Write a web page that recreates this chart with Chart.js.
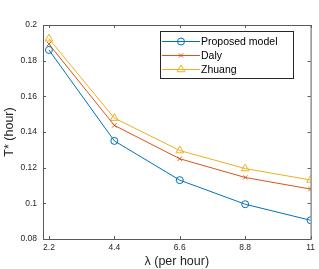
<!DOCTYPE html>
<html lang="en">
<head>
<meta charset="UTF-8">
<title>T* vs lambda</title>
<script src="https://cdn.jsdelivr.net/npm/chart.js"></script>
<style>
  html, body { margin: 0; padding: 0; background: #fff; }
  canvas { display: block; }
</style>
</head>
<body>
<canvas id="chart" width="319" height="269"></canvas>
<script>
// data
const lambdas = [2.2, 4.4, 6.6, 8.8, 11];
const proposed = [0.186, 0.135, 0.113, 0.0995, 0.0905];
const daly = [0.1893, 0.1437, 0.125, 0.1145, 0.108];
const zhuang = [0.1923, 0.1478, 0.1296, 0.1195, 0.1131];
const yTicks = [0.08, 0.1, 0.12, 0.14, 0.16, 0.18, 0.2];

const axisColor = "#262626";
const font = "'Liberation Sans', Arial, sans-serif";

function pts(vals) {
    return lambdas.map((x, i) => ({ x: x, y: vals[i] }));
}

// box + inward ticks, matlab style
const boxPlugin = {
    id: "box",
    afterDatasetsDraw(chart) {
        const c = chart.ctx, a = chart.chartArea;
        const xs = chart.scales.x, ys = chart.scales.y;
        c.save();
        c.strokeStyle = "#5a5a5a";
        c.lineWidth = 1;
        c.strokeRect(a.left + 0.5, a.top + 0.5, a.right - a.left, a.bottom - a.top);
        c.beginPath();
        lambdas.forEach(v => {
            const px = Math.round(xs.getPixelForValue(v)) + 0.5;
            c.moveTo(px, a.bottom); c.lineTo(px, a.bottom - 3);
            c.moveTo(px, a.top); c.lineTo(px, a.top + 3);
        });
        yTicks.forEach(v => {
            const py = Math.round(ys.getPixelForValue(v)) + 0.5;
            c.moveTo(a.left, py); c.lineTo(a.left + 3, py);
            c.moveTo(a.right, py); c.lineTo(a.right - 3, py);
        });
        c.stroke();
        c.restore();
    }
};

// legend drawn by hand so each entry gets line + marker
const legendPlugin = {
    id: "matlabLegend",
    afterDraw(chart) {
        const c = chart.ctx;
        const x0 = 160, y0 = 31, w = 133, h = 47;
        c.save();
        c.fillStyle = "#fff";
        c.fillRect(x0, y0, w, h);
        c.strokeStyle = "#262626";
        c.lineWidth = 1;
        c.strokeRect(x0 + 0.5, y0 + 0.5, w, h);
        c.font = "10.5px " + font;
        c.textBaseline = "middle";
        chart.data.datasets.forEach((ds, i) => {
            const y = y0 + 10.5 + i * 14;
            c.strokeStyle = ds.borderColor;
            c.lineWidth = 1;
            c.beginPath();
            c.moveTo(x0 + 2, y); c.lineTo(x0 + 40, y);
            c.stroke();
            c.fillStyle = "rgba(0,0,0,0)";
            Chart.helpers.drawPoint(c, {
                pointStyle: ds.pointStyle, radius: ds.pointRadius,
                borderWidth: 1, rotation: 0
            }, x0 + 21, y);
            c.fillStyle = "#000";
            c.fillText(ds.label, x0 + 41, y + 0.5);
        });
        c.restore();
    }
};

new Chart(document.getElementById("chart"), {
    type: "line",
    data: {
        datasets: [
            { label: "Proposed model", data: pts(proposed), borderColor: "#0072BD",
              pointStyle: "circle", pointRadius: 3.5 },
            { label: "Daly", data: pts(daly), borderColor: "#D95319",
              pointStyle: "crossRot", pointRadius: 3 },
            { label: "Zhuang", data: pts(zhuang), borderColor: "#EDB120",
              pointStyle: "triangle", pointRadius: 4.5 }
        ].map(d => Object.assign(d, {
            borderWidth: 1, backgroundColor: "rgba(0,0,0,0)",
            pointBorderColor: d.borderColor, pointBorderWidth: 1,
            pointBackgroundColor: "rgba(0,0,0,0)", tension: 0
        }))
    },
    options: {
        responsive: false,
        animation: false,
        layout: { padding: { top: 25, right: 4, left: 0, bottom: 0 } },
        plugins: { legend: { display: false }, tooltip: { enabled: false } },
        scales: {
            x: {
                type: "linear", min: 2, max: 11,
                afterBuildTicks: s => { s.ticks = lambdas.map(v => ({ value: v })); },
                afterFit: s => { s.height = 30; },
                grid: { display: false, drawTicks: false, tickLength: 0 }, border: { display: false },
                ticks: { font: { family: font, size: 8.5 }, color: axisColor, padding: 4,
                         maxRotation: 0, autoSkip: false,
                         callback: v => String(v) },
                title: { display: true, text: "\u03bb (per hour)", color: axisColor,
                         font: { family: font, size: 12.5 }, padding: { top: 0, bottom: 0 } }
            },
            y: {
                min: 0.08, max: 0.2,
                afterBuildTicks: s => { s.ticks = yTicks.map(v => ({ value: v })); },
                afterFit: s => { s.width = 43; },
                grid: { display: false, drawTicks: false, tickLength: 0 }, border: { display: false },
                ticks: { font: { family: font, size: 8.5 }, color: axisColor, padding: 6,
                         callback: v => String(parseFloat(v.toFixed(2))) },
                title: { display: true, text: "T* (hour)", color: axisColor,
                         font: { family: font, size: 12.5 }, padding: { top: 2, bottom: 0 } }
            }
        }
    },
    plugins: [boxPlugin, legendPlugin]
});
</script>
</body>
</html>
